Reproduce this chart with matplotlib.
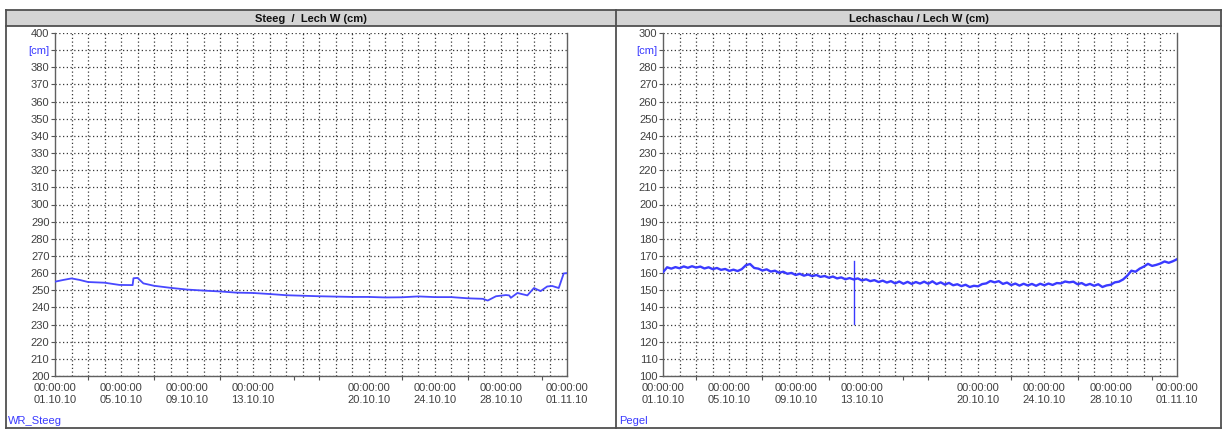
import matplotlib
matplotlib.use("Agg")
import matplotlib.pyplot as plt
from matplotlib.patches import Rectangle
from matplotlib.lines import Line2D

plt.rcParams['font.family'] = ['Liberation Sans', 'DejaVu Sans']

# ---------------- data ----------------
tick_days = [0, 4, 8, 12, 19, 23, 27, 31]
tick_labels = ["00:00:00\n01.10.10", "00:00:00\n05.10.10", "00:00:00\n09.10.10",
               "00:00:00\n13.10.10", "00:00:00\n20.10.10", "00:00:00\n24.10.10",
               "00:00:00\n28.10.10", "00:00:00\n01.11.10"]

left_title = "Steeg  /  Lech W (cm)"
right_title = "Lechaschau / Lech W (cm)"
left_series_name = "WR_Steeg"
right_series_name = "Pegel"

steeg_days = [0, 0.5, 1, 1.5, 2, 3, 3.9, 4.7, 4.75, 5.0, 5.35, 6, 7, 8, 9, 10, 11, 12,
              13, 14, 15, 16, 17, 18, 19, 20, 21, 22, 23, 24, 25, 25.9, 26.2, 26.7,
              27.3, 27.5, 27.6, 28, 28.6, 29, 29.4, 29.8, 30.1, 30.5, 30.8, 31]
steeg_values = [255, 256, 256.9, 256, 254.8, 254.4, 253.1, 253, 257, 257.2, 254, 252.6,
                251.4, 250.4, 249.8, 249.3, 248.6, 248.4, 247.8, 247.1, 246.8, 246.5,
                246.3, 246.1, 246.1, 245.8, 245.9, 246.4, 246, 246, 245.3, 245, 244,
                246.5, 247.2, 247, 245.6, 248.4, 247, 251.3, 249.5, 252.2, 252.5,
                251.3, 259.8, 260]

lech_days = [i * 0.25 for i in range(125)]
lech_values = [
    160.5, 163.4, 162.6, 163.5, 162.8, 163.9, 163.1, 164.0, 163.2, 163.8, 162.7, 163.4,
    162.3, 163.0, 161.9, 162.4, 161.3, 162.0, 161.2, 162.3, 164.6, 165.3, 163.0, 162.6,
    161.5, 162.2, 160.9, 161.4, 160.2, 160.8, 159.6, 160.1, 158.9, 159.6, 158.5, 159.2,
    158.2, 158.9, 157.8, 158.3, 157.3, 158.0, 156.9, 157.5, 156.4, 157.1, 156.3, 156.9,
    155.7, 156.4, 155.3, 155.9, 154.8, 155.6, 154.5, 155.3, 154.0, 155.1, 153.8, 154.9,
    153.7, 154.8, 153.9, 155.0, 153.8, 155.2, 153.6, 154.6, 153.3, 154.3, 152.9, 153.5,
    152.4, 153.2, 151.9, 152.6, 152.3, 153.6, 154.0, 155.4, 154.6, 155.3, 153.7, 154.5,
    153.0, 153.9, 152.7, 153.8, 152.8, 153.7, 152.6, 153.8, 152.9, 153.9, 153.1, 154.2,
    154.0, 155.1, 154.6, 155.0, 153.5, 154.2, 152.9, 153.7, 152.6, 153.5, 151.9, 152.8,
    153.2, 154.6, 155.0, 156.3, 158.5, 161.4, 160.8, 162.6, 163.8, 165.4, 164.2, 164.8,
    165.6, 166.8, 166.0, 166.9, 168.1]
spike_days = [11.5, 11.5]
spike_values = [167, 130.5]

# ---------------- figure ----------------
W, H = 1222, 432
fig = plt.figure(figsize=(W / 100, H / 100), dpi=100)
fig.patch.set_facecolor('white')

def px_axes(x0, y0, x1, y1):
    return fig.add_axes([x0 / W, 1 - y1 / H, (x1 - x0) / W, (y1 - y0) / H])

# frame & title bars
bg = fig.add_axes([0, 0, 1, 1])
bg.set_xlim(0, W)
bg.set_ylim(H, 0)
bg.axis('off')
bg.add_patch(Rectangle((6, 10), 1216, 16, facecolor='#d4d4d4', edgecolor='none'))
frame_c = '#505050'
for (xs, ys) in [([6, 1222], [10, 10]), ([6, 1222], [26, 26]), ([6, 6], [10, 428]),
                 ([6, 1222], [428, 428]), ([616, 616], [10, 428]), ([1221, 1221], [10, 428])]:
    bg.add_line(Line2D(xs, ys, color=frame_c, lw=1.3))
bg.text(311, 18.5, left_title, ha='center', va='center', fontsize=8, fontweight='bold', color='#111')
bg.text(919, 18.5, right_title, ha='center', va='center', fontsize=8, fontweight='bold', color='#111')
bg.text(8, 421, left_series_name, ha='left', va='center', fontsize=8, color='#3a3aff')
bg.text(619, 421, right_series_name, ha='left', va='center', fontsize=8, color='#3a3aff')

line_color = '#3a3aff'

def style_axes(ax, ymin, ymax):
    ax.set_xlim(0, 31)
    ax.set_ylim(ymin, ymax)
    ax.set_xticks(tick_days)
    ax.set_xticklabels(tick_labels, fontsize=8, color='#404040', linespacing=1.3)
    yt = list(range(ymin, ymax + 1, 10))
    ax.set_yticks(yt)
    labels = [str(v) for v in yt]
    labels[-2] = '[cm]'
    ax.set_yticklabels(labels, fontsize=8, color='#404040')
    ax.get_yticklabels()[-2].set_color('#3a3aff')
    ax.tick_params(axis='y', length=3, width=0.8, color='#555', pad=1)
    ax.tick_params(axis='x', length=0, pad=5)
    ax.set_xticks([2, 6, 10, 14.5, 16, 21, 25, 29.5], minor=True)
    ax.tick_params(axis='x', which='minor', length=3, width=0.8, color='#555')
    for d in range(1, 31):
        ax.axvline(d, color='#383838', lw=0.9, ls=(0, (1, 2)), zorder=1)
    for v in yt:
        ax.axhline(v, color='#383838', lw=0.9, ls=(0, (1, 2)), zorder=1)
    ax.spines['top'].set_visible(False)
    for s in ['left', 'bottom', 'right']:
        ax.spines[s].set_color('#606060')
        ax.spines[s].set_linewidth(1.0)

ax1 = px_axes(55, 33, 567, 376)
style_axes(ax1, 200, 400)
ax1.plot(steeg_days, steeg_values, color='#4848ff', lw=1.3, zorder=3)

ax2 = px_axes(663, 33, 1177, 376)
style_axes(ax2, 100, 300)
ax2.plot(lech_days, lech_values, color=line_color, lw=1.7, zorder=3)
ax2.plot(spike_days, spike_values, color=line_color, lw=1.0, zorder=3)

fig.savefig('out.png', dpi=100)
